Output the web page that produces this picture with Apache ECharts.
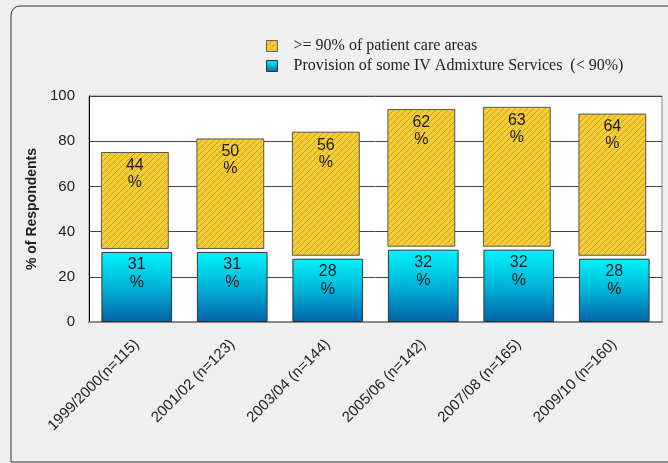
<!DOCTYPE html>
<html>
<head>
<meta charset="utf-8">
<script src="https://cdn.jsdelivr.net/npm/echarts@6/dist/echarts.min.js"></script>
<style>
  html, body { margin: 0; padding: 0; background: #efefef; }
  #chart { width: 668px; height: 463px; }
</style>
</head>
<body>
<div id="chart"></div>
<script>
// Survey years with respondent counts
const categories = ['1999/2000(n=115)', '2001/02 (n=123)', '2003/04 (n=144)', '2005/06 (n=142)', '2007/08 (n=165)', '2009/10 (n=160)'];
// % providing some IV admixture services (< 90% of areas)
const someServices = [31, 31, 28, 32, 32, 28];
// % providing to >= 90% of patient care areas
const mostAreas = [44, 50, 56, 62, 63, 64];
const yTicks = [0, 20, 40, 60, 80, 100];

const nameMost = '>= 90% of patient care areas';
const nameSome = 'Provision of some IV Admixture Services  (< 90%)';

// Diagonal hatch fill for the upper segments
function makeHatch() {
  const c = document.createElement('canvas');
  c.width = 6; c.height = 6;
  const g = c.getContext('2d');
  g.fillStyle = '#f9cd2e';
  g.fillRect(0, 0, 6, 6);
  g.strokeStyle = 'rgba(120,110,80,0.7)';
  g.lineWidth = 0.7;
  g.beginPath();
  g.moveTo(-1, 7); g.lineTo(7, -1);
  g.moveTo(-1, 1); g.lineTo(1, -1);
  g.moveTo(5, 7); g.lineTo(7, 5);
  g.stroke();
  return { image: c, repeat: 'repeat' };
}
const hatch = makeHatch();
const cyanGrad = new echarts.graphic.LinearGradient(0, 0, 0, 1, [
  { offset: 0, color: '#00f4fa' },
  { offset: 0.5, color: '#00b4d8' },
  { offset: 1, color: '#0062a8' }
]);

const upperData = categories.map((c, i) => [i, someServices[i], mostAreas[i]]);

const chart = echarts.init(document.getElementById('chart'), null, { renderer: 'canvas' });
chart.setOption({
  backgroundColor: '#efefef',
  animation: false,
  graphic: [{
    type: 'rect',
    shape: { x: 11, y: 6, width: 700, height: 456, r: [9, 0, 0, 0] },
    style: { fill: 'none', stroke: '#333', lineWidth: 1 },
    silent: true, z: -1
  }],
  legend: {
    orient: 'vertical',
    left: 261,
    top: 33,
    itemWidth: 11,
    itemHeight: 11,
    itemGap: 4,
    selectedMode: false,
    textStyle: {
      fontFamily: 'Liberation Serif, Times New Roman, serif',
      fontSize: 16,
      color: '#222',
      padding: [0, 0, 0, 11]
    },
    data: [
      { name: nameMost, icon: 'rect', itemStyle: { color: hatch, borderColor: '#666', borderWidth: 1 } },
      { name: nameSome, icon: 'rect', itemStyle: { color: cyanGrad, borderColor: '#333', borderWidth: 1 } }
    ]
  },
  grid: {
    left: 89, right: 6, top: 96, bottom: 141,
    show: true, backgroundColor: '#ffffff', borderColor: '#888', borderWidth: 1
  },
  xAxis: {
    type: 'category',
    data: categories,
    axisTick: { show: false },
    axisLine: { show: true, lineStyle: { color: '#888', width: 2 } },
    axisLabel: {
      rotate: 45, interval: 0, margin: 20,
      fontFamily: 'Liberation Sans, Arial, sans-serif', fontSize: 15, color: '#222'
    }
  },
  yAxis: {
    type: 'value',
    min: yTicks[0], max: yTicks[yTicks.length - 1], interval: 20,
    name: '% of Respondents',
    nameLocation: 'middle',
    nameGap: 49,
    nameTextStyle: { fontFamily: 'Liberation Sans, Arial, sans-serif', fontSize: 14, fontWeight: 'bold', color: '#222' },
    axisLine: { show: true, lineStyle: { color: '#000', width: 1 } },
    axisTick: { show: false },
    axisLabel: { margin: 14, fontFamily: 'Liberation Sans, Arial, sans-serif', fontSize: 15, color: '#222' },
    splitLine: { show: true, lineStyle: { color: '#444', width: 1 } }
  },
  series: [
    {
      name: nameSome,
      type: 'bar',
      stack: 'resp',
      data: someServices,
      barWidth: '74%',
      itemStyle: { color: cyanGrad, borderColor: '#333', borderWidth: 1 },
      label: {
        show: true, position: 'insideTop', distance: 4,
        formatter: p => p.value + '\n%',
        fontFamily: 'Liberation Sans, Arial, sans-serif', fontSize: 16, lineHeight: 18, color: '#1a1a1a'
      },
      z: 3
    },
    {
      name: nameMost,
      type: 'custom',
      data: upperData,
      itemStyle: { color: hatch },
      encode: { x: 0, y: 2 },
      renderItem: (params, api) => {
        const idx = api.value(0);
        const base = api.value(1);
        const v = api.value(2);
        const top = api.coord([idx, base + v]);
        const bot = api.coord([idx, base]);
        const bw = api.size([1, 0])[0];
        const left = top[0] - bw * 0.74 / 2;
        const w = bw * 0.70;
        const yBottom = bot[1] - 3.5;
        return {
          type: 'rect',
          shape: { x: left, y: top[1], width: w, height: yBottom - top[1] },
          style: { fill: hatch, stroke: '#555', lineWidth: 1 },
          textContent: {
            style: {
              text: v + '\n%', fill: '#1a1a1a', align: 'center',
              font: '16px "Liberation Sans", Arial, sans-serif', lineHeight: 17
            }
          },
          textConfig: { position: 'insideTop', distance: 5 }
        };
      },
      z: 3
    }
  ]
});
</script>
</body>
</html>
